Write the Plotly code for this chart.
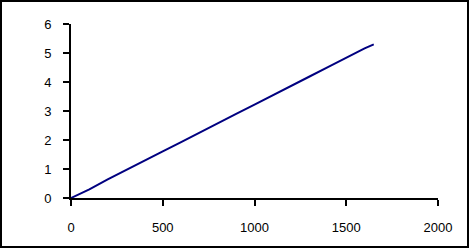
import plotly.graph_objects as go

x_vals = [0, 100, 200, 300, 400, 500, 600, 700, 800, 900, 1000, 1100, 1200, 1300, 1400, 1500, 1600, 1650]
y_vals = [0, 0.30, 0.64, 0.97, 1.29, 1.61, 1.93, 2.26, 2.58, 2.90, 3.22, 3.55, 3.87, 4.19, 4.51, 4.84, 5.16, 5.30]
x_ticks = [0, 500, 1000, 1500, 2000]
y_ticks = [0, 1, 2, 3, 4, 5, 6]

fig = go.Figure()
fig.add_trace(go.Scatter(x=x_vals, y=y_vals, mode="lines",
                         line=dict(color="#000080", width=2), showlegend=False,
                         hoverinfo="skip"))

W, H = 470, 249
L, R, T, B = 71, 32, 24, 51
pw, ph = W - L - R, H - T - B

def px(xp):
    return (xp - L) / pw

def py(yp):
    return (H - B - yp) / ph

fig.add_shape(type="rect", xref="paper", yref="paper",
              x0=px(1), x1=px(468), y0=py(247), y1=py(1),
              line=dict(color="black", width=2), layer="above")

fig.update_layout(
    width=W, height=H,
    margin=dict(l=L, r=R, t=T, b=B),
    paper_bgcolor="white", plot_bgcolor="white",
    font=dict(family="Liberation Sans, Arial, sans-serif", size=13, color="black"),
    xaxis=dict(range=[0, 2000], tickvals=x_ticks, ticktext=[str(v) for v in x_ticks],
               showgrid=False, zeroline=False, showline=True, linecolor="black", linewidth=2,
               ticks="outside", ticklen=6, tickwidth=2, tickcolor="black",
               ticklabelstandoff=10),
    yaxis=dict(range=[0, 6], tickvals=y_ticks, ticktext=[str(v) for v in y_ticks],
               showgrid=False, zeroline=False, showline=True, linecolor="black", linewidth=2,
               ticks="outside", ticklen=6, tickwidth=2, tickcolor="black",
               ticklabelstandoff=9),
)

fig.write_html("out.html")
